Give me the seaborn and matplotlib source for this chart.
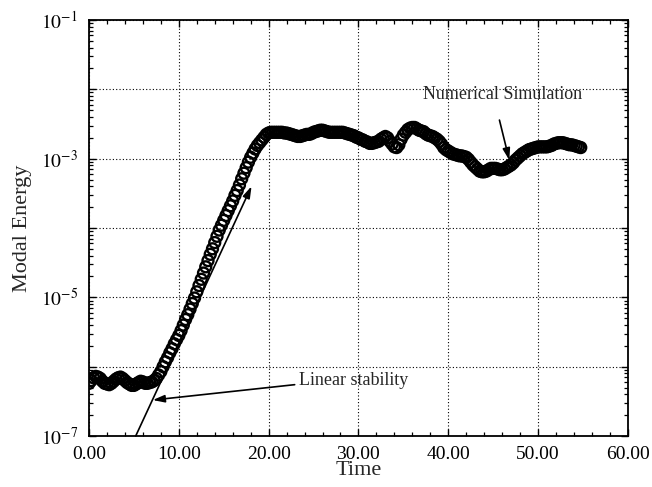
import numpy as np
import matplotlib
matplotlib.use("Agg")
import matplotlib.pyplot as plt
import matplotlib.ticker as mticker
import seaborn as sns

# ---- data ----
time_start, time_step = 0.0, 0.25
log10_energy = [
    -6.24, -6.20, -6.16, -6.14,
    -6.15, -6.17, -6.21, -6.24,
    -6.25, -6.26, -6.24, -6.21,
    -6.18, -6.16, -6.15, -6.17,
    -6.20, -6.23, -6.25, -6.27,
    -6.27, -6.25, -6.23, -6.21,
    -6.22, -6.24, -6.24, -6.23,
    -6.22, -6.20, -6.17, -6.12,
    -6.07, -6.00, -5.93, -5.87,
    -5.80, -5.74, -5.67, -5.61,
    -5.55, -5.48, -5.40, -5.32,
    -5.25, -5.17, -5.09, -5.01,
    -4.92, -4.83, -4.74, -4.65,
    -4.56, -4.47, -4.38, -4.30,
    -4.21, -4.12, -4.03, -3.96,
    -3.89, -3.82, -3.75, -3.68,
    -3.61, -3.53, -3.46, -3.38,
    -3.29, -3.21, -3.13, -3.05,
    -2.98, -2.92, -2.86, -2.81,
    -2.77, -2.73, -2.69, -2.65,
    -2.63, -2.62, -2.62, -2.62,
    -2.62, -2.62, -2.62, -2.63,
    -2.63, -2.64, -2.65, -2.66,
    -2.67, -2.68, -2.68, -2.67,
    -2.66, -2.65, -2.65, -2.64,
    -2.62, -2.61, -2.60, -2.59,
    -2.59, -2.60, -2.61, -2.62,
    -2.62, -2.62, -2.62, -2.62,
    -2.62, -2.62, -2.63, -2.64,
    -2.65, -2.66, -2.67, -2.69,
    -2.70, -2.72, -2.73, -2.75,
    -2.76, -2.78, -2.78, -2.77,
    -2.76, -2.75, -2.72, -2.70,
    -2.68, -2.70, -2.75, -2.79,
    -2.83, -2.84, -2.80, -2.72,
    -2.66, -2.62, -2.58, -2.56,
    -2.55, -2.55, -2.57, -2.59,
    -2.60, -2.61, -2.64, -2.66,
    -2.67, -2.68, -2.70, -2.72,
    -2.75, -2.79, -2.84, -2.87,
    -2.89, -2.91, -2.93, -2.94,
    -2.95, -2.96, -2.96, -2.97,
    -2.98, -3.01, -3.05, -3.09,
    -3.12, -3.15, -3.18, -3.19,
    -3.19, -3.18, -3.16, -3.14,
    -3.14, -3.14, -3.15, -3.16,
    -3.16, -3.15, -3.13, -3.11,
    -3.09, -3.06, -3.02, -2.99,
    -2.96, -2.93, -2.91, -2.89,
    -2.87, -2.86, -2.85, -2.84,
    -2.83, -2.83, -2.83, -2.83,
    -2.83, -2.82, -2.81, -2.79,
    -2.78, -2.77, -2.77, -2.77,
    -2.78, -2.79, -2.80, -2.80,
    -2.81, -2.82, -2.83, -2.84,
]
time = time_start + time_step * np.arange(len(log10_energy))
energy = 10.0 ** np.array(log10_energy)

linear_t = [5.2, 18.1]
linear_E = [1.0e-7, 4.0e-4]

x_ticks = [0, 10, 20, 30, 40, 50, 60]
x_ticklabels = ["0.00", "10.00", "20.00", "30.00", "40.00", "50.00", "60.00"]
y_decades = [-7, -6, -5, -4, -3, -2, -1]
y_labelled = [-7, -5, -3, -1]

# ---- style ----
sns.set_style("ticks")
plt.rcParams["font.family"] = ["Liberation Serif", "DejaVu Serif"]
plt.rcParams["mathtext.fontset"] = "stix"

fig = plt.figure(figsize=(6.52, 4.87), dpi=100)
ax = fig.add_axes([0.1365, 0.1047, 0.8265, 0.8543])

sns.scatterplot(x=time, y=energy, ax=ax, marker="o", s=62,
                facecolor="none", edgecolor="black", linewidth=1.7,
                legend=False, zorder=3)

ax.set_yscale("log")
ax.set_xlim(0, 60)
ax.set_ylim(1e-7, 1e-1)

ax.set_xticks(x_ticks)
ax.set_xticklabels(x_ticklabels)
ax.xaxis.set_minor_locator(mticker.MultipleLocator(2))
ax.set_yticks([10.0 ** d for d in y_decades])
ax.set_yticklabels([(r"$10^{%d}$" % d) if d in y_labelled else "" for d in y_decades])
ax.yaxis.set_minor_locator(mticker.LogLocator(base=10, subs=np.arange(2, 10), numticks=20))
ax.yaxis.set_minor_formatter(mticker.NullFormatter())

ax.tick_params(which="both", direction="in", top=True, right=True, colors="black",
               labelsize=14)
ax.tick_params(axis="x", which="major", pad=7)
ax.tick_params(axis="y", which="major", pad=8)
ax.tick_params(which="major", length=5, width=1.0)
ax.tick_params(which="minor", length=3, width=0.9)
for sp in ax.spines.values():
    sp.set_linewidth(1.3)
    sp.set_color("black")

ax.grid(True, which="major", color="black", linestyle=(0, (1, 2)), linewidth=0.8)
ax.set_axisbelow(True)

ax.set_xlabel("Time", fontsize=16, labelpad=-1)
ax.set_ylabel("Modal Energy", fontsize=16, labelpad=6)

arrow_kw = dict(arrowstyle="-|>,head_length=0.7,head_width=0.22", color="black",
                lw=1.2, shrinkA=0, shrinkB=0)

# linear stability prediction
ax.annotate("", xy=(linear_t[1], linear_E[1]), xytext=(linear_t[0], linear_E[0]),
            arrowprops=arrow_kw, zorder=4, annotation_clip=False)

ax.text(23.4, 6.3e-7, "Linear stability", fontsize=13, ha="left", va="center")
ax.annotate("", xy=(7.1, 3.3e-7), xytext=(22.9, 5.5e-7), arrowprops=arrow_kw)

ax.text(46.0, 8.3e-3, "Numerical Simulation", fontsize=13, ha="center", va="center")
ax.annotate("", xy=(46.8, 9.5e-4), xytext=(45.7, 3.6e-3), arrowprops=arrow_kw)

fig.savefig("out.png", dpi=100)
